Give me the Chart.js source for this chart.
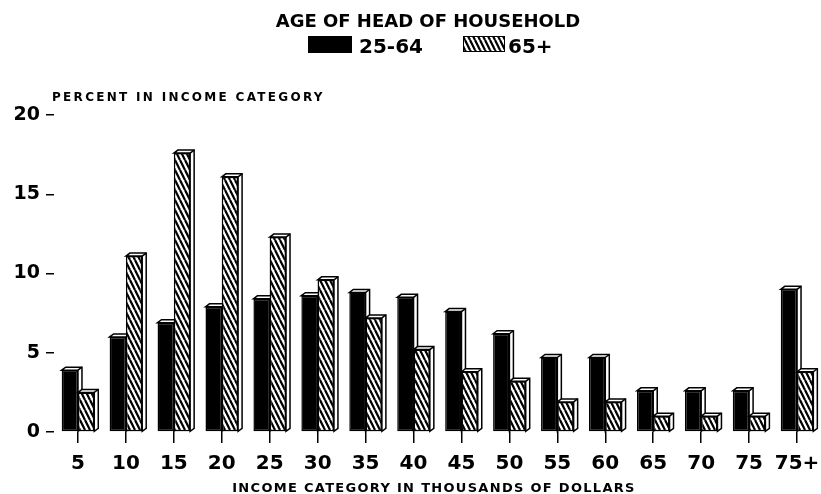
<!DOCTYPE html>
<html>
<head>
<meta charset="utf-8">
<script src="https://cdn.jsdelivr.net/npm/chart.js@4"></script>
<style>
  html, body { margin: 0; padding: 0; background: #fff; }
</style>
</head>
<body>
<canvas id="myChart" width="821" height="494"></canvas>
<script>
const incomeLabels = ["5", "10", "15", "20", "25", "30", "35", "40", "45", "50", "55", "60", "65", "70", "75", "75+"];
const age2564 = [3.9, 6.0, 6.9, 7.9, 8.4, 8.6, 8.8, 8.5, 7.6, 6.2, 4.7, 4.7, 2.6, 2.6, 2.6, 9.0];
const age65plus = [2.5, 11.1, 17.6, 16.1, 12.3, 9.6, 7.2, 5.2, 3.8, 3.2, 1.9, 1.9, 1.0, 1.0, 1.0, 3.8];
const yTicks = [0, 5, 10, 15, 20];

const boldFont = '"DejaVu Sans", sans-serif';
const depthX = 4, depthY = 3;

function makeHatch(step) {
  const c = document.createElement('canvas');
  c.width = step; c.height = step * 2;
  const g = c.getContext('2d');
  g.fillStyle = '#fff';
  g.fillRect(0, 0, c.width, c.height);
  g.strokeStyle = '#000';
  g.lineWidth = 2.2;
  for (let k = -1; k <= 1; k++) {
    g.beginPath();
    g.moveTo(k * step, 0);
    g.lineTo(k * step + step, step * 2);
    g.stroke();
  }
  return g.createPattern(c, 'repeat');
}

const hatch = makeHatch(5);

// white top and side faces give the bars their 3D look
function drawFaces(ctx, bar) {
  const p = bar.getProps(['x', 'y', 'base', 'width'], true);
  const left = p.x - p.width / 2, right = p.x + p.width / 2;
  ctx.save();
  ctx.lineWidth = 1.5;
  ctx.strokeStyle = '#000';
  ctx.fillStyle = '#fff';
  ctx.beginPath();
  ctx.moveTo(left, p.y);
  ctx.lineTo(left + depthX, p.y - depthY);
  ctx.lineTo(right + depthX, p.y - depthY);
  ctx.lineTo(right + depthX, p.base - depthY);
  ctx.lineTo(right, p.base);
  ctx.lineTo(right, p.y);
  ctx.closePath();
  ctx.fill();
  ctx.stroke();
  ctx.beginPath();
  ctx.moveTo(right, p.y);
  ctx.lineTo(right + depthX, p.y - depthY);
  ctx.stroke();
  ctx.restore();
}

const bars3d = {
  id: 'bars3d',
  afterDatasetsDraw(chart) {
    const ctx = chart.ctx;
    const front = chart.getDatasetMeta(0).data;
    const back = chart.getDatasetMeta(1).data;
    front.forEach((bar, i) => {
      drawFaces(ctx, bar);
      back[i].draw(ctx);
      drawFaces(ctx, back[i]);
    });
  }
};

const texts = {
  id: 'texts',
  afterDraw(chart) {
    const ctx = chart.ctx;
    const ds = chart.data.datasets;
    ctx.save();
    ctx.fillStyle = '#000';
    ctx.textBaseline = 'alphabetic';

    ctx.font = 'bold 18px ' + boldFont;
    ctx.textAlign = 'center';
    ctx.fillText('AGE OF HEAD OF HOUSEHOLD', 428, 27);

    ctx.fillStyle = '#000';
    ctx.fillRect(308, 36, 44, 17);
    ctx.fillStyle = hatch;
    ctx.fillRect(463, 36, 42, 16);
    ctx.strokeStyle = '#000';
    ctx.lineWidth = 1;
    ctx.strokeRect(463.5, 36.5, 41, 15);

    ctx.fillStyle = '#000';
    ctx.font = 'bold 20px ' + boldFont;
    ctx.textAlign = 'left';
    ctx.fillText(ds[0].label, 359, 53);
    ctx.fillText(ds[1].label, 508, 53);

    ctx.font = 'bold 12px ' + boldFont;
    ctx.letterSpacing = '2.3px';
    ctx.fillText('PERCENT IN INCOME CATEGORY', 52, 101);

    ctx.font = 'bold 13px ' + boldFont;
    ctx.letterSpacing = '1.3px';
    ctx.textAlign = 'center';
    ctx.fillText('INCOME CATEGORY IN THOUSANDS OF DOLLARS', 434, 492);
    ctx.restore();
  }
};

const ctx = document.getElementById('myChart').getContext('2d');
const chart = new Chart(ctx, {
  type: 'bar',
  data: {
    labels: incomeLabels,
    datasets: [{
      label: '25-64',
      data: age2564,
      backgroundColor: '#000',
      borderColor: '#000',
      borderWidth: 1.5,
      borderSkipped: false,
    }, {
      label: '65+',
      data: age65plus,
      backgroundColor: hatch,
      borderColor: '#000',
      borderWidth: 1.5,
      borderSkipped: false,
    }]
  },
  options: {
    responsive: false,
    animation: false,
    events: [],
    layout: { padding: { top: 115, right: -3, left: 0, bottom: 0 } },
    categoryPercentage: 0.68,
    barPercentage: 1.0,
    plugins: {
      legend: { display: false },
      tooltip: { enabled: false },
    },
    scales: {
      x: {
        afterFit(scale) {
          scale.height = 62;
          scale.paddingLeft = 0;
          scale.paddingRight = 0;
        },
        border: { display: false },
        grid: { drawOnChartArea: false, offset: false, tickLength: 11, color: '#000', lineWidth: 1.5 },
        ticks: { color: '#000', padding: 9, autoSkip: false, minRotation: 0, maxRotation: 0, font: { family: boldFont, size: 20, weight: 'bold' } },
      },
      y: {
        min: 0,
        max: 20,
        afterFit(scale) { scale.width = 54; },
        afterBuildTicks(scale) { scale.ticks = yTicks.map(v => ({ value: v })); },
        border: { display: false },
        grid: { drawOnChartArea: false, tickLength: 8, color: '#000', lineWidth: 1.5 },
        ticks: { color: '#000', padding: 6, font: { family: boldFont, size: 19, weight: 'bold' } },
      }
    }
  },
  plugins: [bars3d, texts]
});
</script>
</body>
</html>
